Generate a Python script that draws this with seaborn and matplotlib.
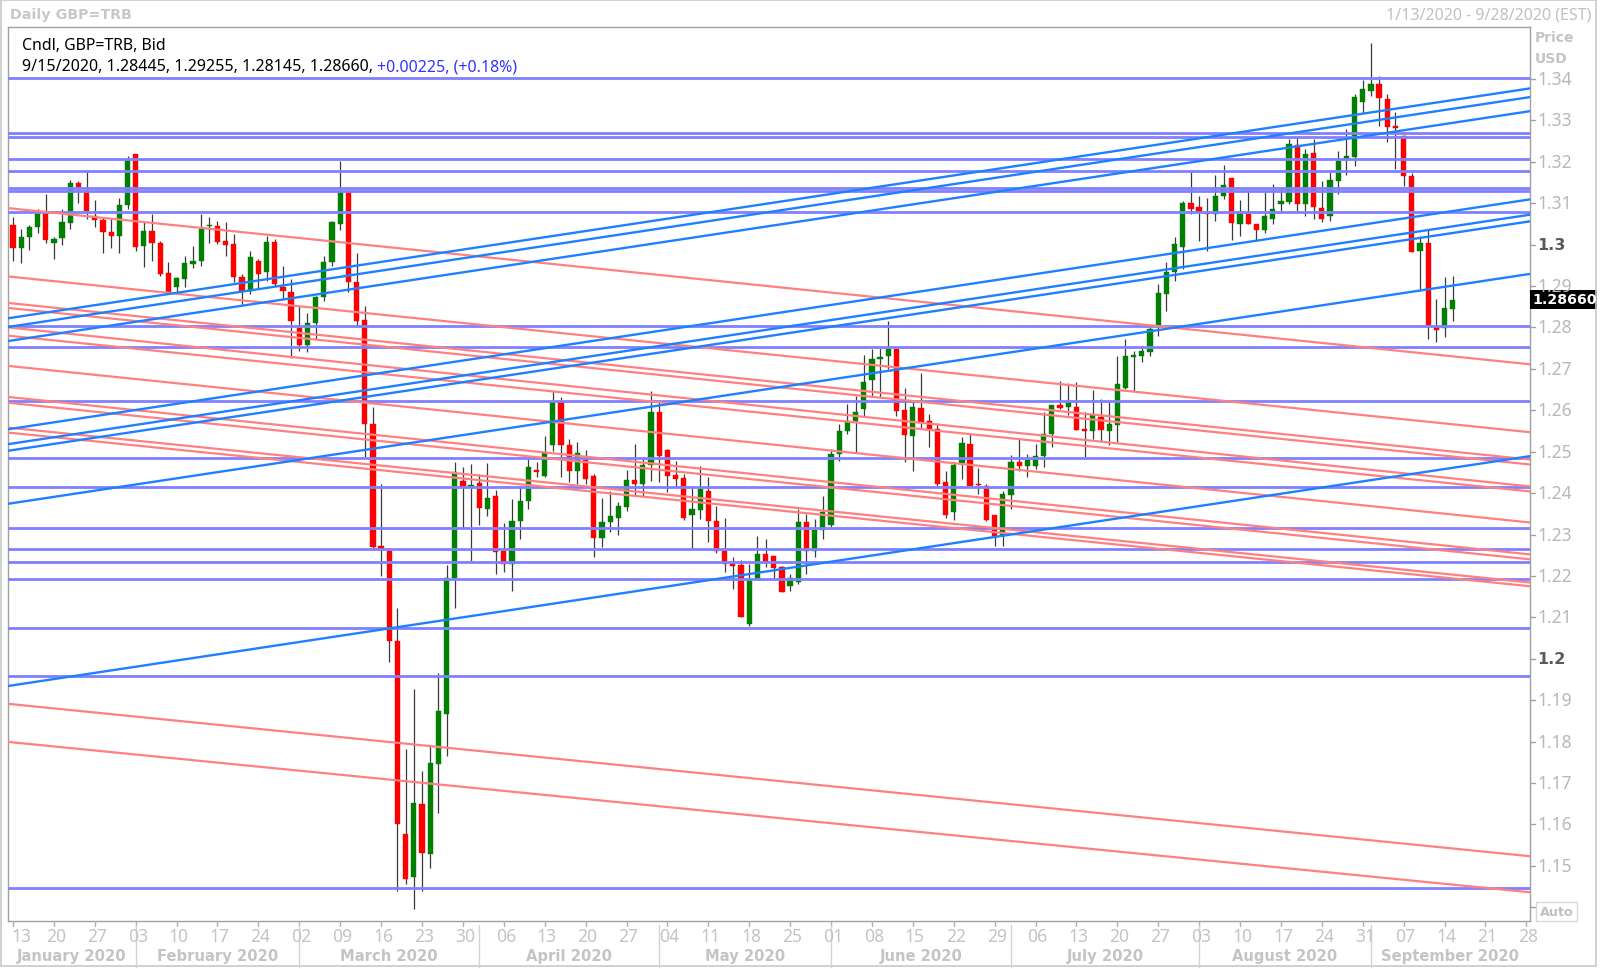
import numpy as np
import pandas as pd
import matplotlib
matplotlib.use("Agg")
import matplotlib.pyplot as plt
import seaborn as sns
from matplotlib.patches import Rectangle
from matplotlib.lines import Line2D
from matplotlib.transforms import blended_transform_factory

# ---------------- data ----------------
first_day = "2020-01-13"
axis_last_day = "2020-09-28"

opens = [1.3047, 1.2991, 1.3018, 1.3042, 1.3074, 1.3004, 1.3015, 1.3052, 1.3148, 1.3126,
         1.3068, 1.3060, 1.3031, 1.3022, 1.3096, 1.3219, 1.2996, 1.3034, 1.3005, 1.2931,
         1.2897, 1.2917, 1.2953, 1.2961, 1.3044, 1.3046, 1.3010, 1.3001, 1.2923, 1.2889,
         1.2961, 1.2933, 1.3007, 1.2897, 1.2885, 1.2799, 1.2758, 1.2812, 1.2873, 1.2957,
         1.3050, 1.3126, 1.2911, 1.2818, 1.2567, 1.2272, 1.2259, 1.2042, 1.1577, 1.1472,
         1.1649, 1.1528, 1.1746, 1.1867, 1.2196, 1.2430, 1.2414, 1.2425, 1.2362, 1.2392,
         1.2261, 1.2229, 1.2332, 1.2382, 1.2457, 1.2442, 1.2516, 1.2619, 1.2515, 1.2454,
         1.2480, 1.2442, 1.2291, 1.2331, 1.2341, 1.2366, 1.2432, 1.2422, 1.2468, 1.2595,
         1.2505, 1.2444, 1.2436, 1.2346, 1.2360, 1.2406, 1.2333, 1.2261, 1.2230, 1.2226,
         1.2084, 1.2193, 1.2253, 1.2247, 1.2221, 1.2175, 1.2186, 1.2331, 1.2259, 1.2312,
         1.2323, 1.2494, 1.2549, 1.2573, 1.2603, 1.2673, 1.2724, 1.2730, 1.2748, 1.2601,
         1.2539, 1.2605, 1.2573, 1.2556, 1.2428, 1.2354, 1.2473, 1.2519, 1.2421, 1.2418,
         1.2347, 1.2297, 1.2395, 1.2474, 1.2465, 1.2466, 1.2489, 1.2543, 1.2613, 1.2607,
         1.2607, 1.2555, 1.2551, 1.2585, 1.2551, 1.2565, 1.2655, 1.2728, 1.2732, 1.2740,
         1.2804, 1.2881, 1.2935, 1.2994, 1.3101, 1.3090, 1.3080, 1.3074, 1.3118, 1.3161,
         1.3050, 1.3074, 1.3050, 1.3036, 1.3062, 1.3098, 1.3104, 1.3241, 1.3098, 1.3221,
         1.3088, 1.3068, 1.3154, 1.3205, 1.3211, 1.3344, 1.3372, 1.3388, 1.3352, 1.3286,
         1.3263, 1.3166, 1.2985, 1.3005, 1.2800, 1.2798, 1.28445]
highs = [1.3067, 1.3038, 1.3047, 1.3086, 1.3122, 1.3018, 1.3086, 1.3157, 1.3154, 1.3176,
         1.3109, 1.3066, 1.3063, 1.3112, 1.3215, 1.3220, 1.3054, 1.3074, 1.3010, 1.2959,
         1.2921, 1.2972, 1.2996, 1.3074, 1.3066, 1.3058, 1.3054, 1.3026, 1.2929, 1.2985,
         1.2965, 1.3022, 1.3014, 1.2949, 1.2917, 1.2853, 1.2836, 1.2877, 1.2973, 1.3058,
         1.3203, 1.3126, 1.2981, 1.2851, 1.2607, 1.2422, 1.2267, 1.2122, 1.1782, 1.1927,
         1.1728, 1.1791, 1.1966, 1.2226, 1.2476, 1.2464, 1.2470, 1.2446, 1.2473, 1.2408,
         1.2329, 1.2386, 1.2418, 1.2482, 1.2475, 1.2537, 1.2647, 1.2631, 1.2531, 1.2523,
         1.2503, 1.2446, 1.2387, 1.2406, 1.2378, 1.2457, 1.2519, 1.2486, 1.2647, 1.2623,
         1.2507, 1.2478, 1.2446, 1.2418, 1.2466, 1.2438, 1.2370, 1.2341, 1.2245, 1.2239,
         1.2229, 1.2297, 1.2289, 1.2249, 1.2225, 1.2205, 1.2362, 1.2350, 1.2337, 1.2394,
         1.2506, 1.2567, 1.2615, 1.2635, 1.2733, 1.2748, 1.2750, 1.2816, 1.2748, 1.2655,
         1.2620, 1.2690, 1.2591, 1.2569, 1.2454, 1.2474, 1.2535, 1.2543, 1.2460, 1.2422,
         1.2347, 1.2404, 1.2492, 1.2532, 1.2494, 1.2519, 1.2595, 1.2613, 1.2671, 1.2667,
         1.2669, 1.2595, 1.2650, 1.2627, 1.2619, 1.2732, 1.2772, 1.2744, 1.2756, 1.2800,
         1.2905, 1.2957, 1.3018, 1.3106, 1.3175, 1.3118, 1.3113, 1.3167, 1.3192, 1.3161,
         1.3109, 1.3126, 1.3050, 1.3126, 1.3146, 1.3138, 1.3255, 1.3263, 1.3231, 1.3255,
         1.3154, 1.3175, 1.3225, 1.3279, 1.3364, 1.3398, 1.3488, 1.3408, 1.3364, 1.3320,
         1.3265, 1.3174, 1.3022, 1.3039, 1.2869, 1.2923, 1.29255]
lows = [1.2961, 1.2956, 1.2988, 1.3028, 1.3005, 1.2965, 1.2999, 1.3039, 1.3100, 1.3062,
        1.3043, 1.2979, 1.2993, 1.2981, 1.3086, 1.2985, 1.2945, 1.2961, 1.2925, 1.2881,
        1.2885, 1.2897, 1.2943, 1.2948, 1.3005, 1.3001, 1.2973, 1.2909, 1.2857, 1.2881,
        1.2893, 1.2913, 1.2901, 1.2869, 1.2726, 1.2744, 1.2740, 1.2772, 1.2865, 1.2949,
        1.3036, 1.2885, 1.2802, 1.2488, 1.2265, 1.2199, 1.1993, 1.1438, 1.1456, 1.1396,
        1.1438, 1.1495, 1.1627, 1.1764, 1.2122, 1.2313, 1.2237, 1.2323, 1.2344, 1.2204,
        1.2210, 1.2164, 1.2289, 1.2362, 1.2440, 1.2438, 1.2502, 1.2438, 1.2426, 1.2422,
        1.2422, 1.2245, 1.2269, 1.2307, 1.2299, 1.2358, 1.2394, 1.2394, 1.2430, 1.2428,
        1.2403, 1.2416, 1.2336, 1.2267, 1.2337, 1.2283, 1.2255, 1.2209, 1.2168, 1.2100,
        1.2078, 1.2189, 1.2221, 1.2193, 1.2160, 1.2164, 1.2180, 1.2205, 1.2245, 1.2289,
        1.2317, 1.2478, 1.2543, 1.2498, 1.2583, 1.2635, 1.2631, 1.2700, 1.2587, 1.2474,
        1.2454, 1.2555, 1.2511, 1.2418, 1.2339, 1.2336, 1.2434, 1.2414, 1.2398, 1.2333,
        1.2273, 1.2273, 1.2362, 1.2454, 1.2438, 1.2458, 1.2462, 1.2511, 1.2603, 1.2589,
        1.2553, 1.2486, 1.2530, 1.2527, 1.2515, 1.2523, 1.2651, 1.2647, 1.2716, 1.2730,
        1.2780, 1.2840, 1.2913, 1.2941, 1.3074, 1.3008, 1.2985, 1.3058, 1.3110, 1.3012,
        1.3022, 1.3050, 1.3010, 1.3028, 1.3050, 1.3082, 1.3098, 1.3082, 1.3068, 1.3062,
        1.3055, 1.3058, 1.3122, 1.3167, 1.3191, 1.3319, 1.3360, 1.3287, 1.3247, 1.3183,
        1.3142, 1.2983, 1.2889, 1.2772, 1.2764, 1.2776, 1.28145]
closes = [1.2991, 1.3019, 1.3042, 1.3074, 1.3011, 1.3014, 1.3054, 1.3148, 1.3140, 1.3082,
          1.3059, 1.3030, 1.3022, 1.3096, 1.3204, 1.2995, 1.3034, 1.3003, 1.2929, 1.2886,
          1.2919, 1.2955, 1.2961, 1.3039, 1.3047, 1.3007, 1.2999, 1.2921, 1.2889, 1.2969,
          1.2929, 1.3007, 1.2905, 1.2889, 1.2816, 1.2758, 1.2812, 1.2873, 1.2957, 1.3054,
          1.3126, 1.2909, 1.2816, 1.2567, 1.2271, 1.2262, 1.2042, 1.1601, 1.1468, 1.1652,
          1.1531, 1.1748, 1.1873, 1.2196, 1.2450, 1.2414, 1.2420, 1.2364, 1.2389, 1.2258,
          1.2229, 1.2332, 1.2382, 1.2462, 1.2452, 1.2498, 1.2619, 1.2515, 1.2454, 1.2497,
          1.2434, 1.2291, 1.2331, 1.2344, 1.2370, 1.2432, 1.2422, 1.2468, 1.2595, 1.2489,
          1.2441, 1.2434, 1.2339, 1.2362, 1.2410, 1.2333, 1.2259, 1.2229, 1.2225, 1.2102,
          1.2193, 1.2253, 1.2233, 1.2218, 1.2162, 1.2196, 1.2331, 1.2259, 1.2312, 1.2354,
          1.2494, 1.2551, 1.2573, 1.2595, 1.2669, 1.2725, 1.2729, 1.2748, 1.2599, 1.2540,
          1.2607, 1.2571, 1.2556, 1.2422, 1.2347, 1.2469, 1.2521, 1.2418, 1.2419, 1.2336,
          1.2296, 1.2398, 1.2474, 1.2465, 1.2480, 1.2490, 1.2543, 1.2613, 1.2605, 1.2619,
          1.2553, 1.2551, 1.2589, 1.2553, 1.2567, 1.2663, 1.2732, 1.2734, 1.2744, 1.2796,
          1.2883, 1.2935, 1.3002, 1.3101, 1.3086, 1.3080, 1.3073, 1.3118, 1.3145, 1.3052,
          1.3074, 1.3050, 1.3036, 1.3070, 1.3087, 1.3106, 1.3243, 1.3098, 1.3219, 1.3090,
          1.3063, 1.3157, 1.3203, 1.3215, 1.3356, 1.3376, 1.3388, 1.3353, 1.3283, 1.3282,
          1.3166, 1.2983, 1.3005, 1.2806, 1.2795, 1.2846, 1.28660]

# horizontal support / resistance levels
level_prices = [1.3402, 1.3269, 1.3260, 1.3207, 1.3179, 1.31358, 1.31285, 1.3078,
                1.2804, 1.2754, 1.2623, 1.2484, 1.2414, 1.2316, 1.2265, 1.2233,
                1.2193, 1.2074, 1.1959, 1.1446]
# rising channel lines: price at first_day and at axis_last_day
up_start = [1.2824, 1.2803, 1.2769, 1.2556, 1.2520, 1.2504, 1.2376, 1.1936]
up_end = [1.3376, 1.3355, 1.3321, 1.3108, 1.3071, 1.3055, 1.2928, 1.2488]
# falling lines: price at first_day and at axis_last_day
down_start = [1.3087, 1.2922, 1.2858, 1.2846, 1.2799, 1.2779, 1.2706, 1.2631,
              1.2617, 1.2557, 1.2545, 1.1890, 1.1798]
down_end = [1.2712, 1.2548, 1.2482, 1.2470, 1.2417, 1.2405, 1.2330, 1.2253,
            1.2241, 1.2185, 1.2176, 1.1524, 1.1437]

price_ticks = [1.14, 1.15, 1.16, 1.17, 1.18, 1.19, 1.20, 1.21, 1.22, 1.23, 1.24,
               1.25, 1.26, 1.27, 1.28, 1.29, 1.30, 1.31, 1.32, 1.33, 1.34]
bold_ticks = [1.20, 1.30]

title_text = "Daily GBP=TRB"
range_text = "1/13/2020 - 9/28/2020 (EST)"
info_line1 = "Cndl, GBP=TRB, Bid"
info_line2 = "9/15/2020, 1.28445, 1.29255, 1.28145, 1.28660, "
info_change = "+0.00225, (+0.18%)"
last_label = "1.28660"

# ---------------- style ----------------
sns.set_theme(style="white")
plt.rcParams['font.family'] = ['Noto Sans', 'DejaVu Sans']
BOLD = ['DejaVu Sans']

W, H = 1600, 970
fig = plt.figure(figsize=(16, 9.7), dpi=100)
fig.patch.set_facecolor("white")
L, R, T, B = 8, 1530, 28, 922
ax = fig.add_axes([L / W, 1 - B / H, (R - L) / W, (B - T) / H])
ax.set_facecolor("white")

def fy(px):
    return 1 - px / H

def fx(px):
    return px / W

days = pd.bdate_range(first_day, periods=len(opens))
axis_days = pd.bdate_range(first_day, axis_last_day)
n_axis = len(axis_days) - 1
xpos = np.arange(len(days))

df = pd.DataFrame({"date": days, "x": xpos, "open": opens, "high": highs,
                   "low": lows, "close": closes})
df["up"] = df["close"] >= df["open"]

XL0, XL1 = -0.61, 185.45
YL0, YL1 = 1.13667, 1.35256
ax.set_xlim(XL0, XL1)
ax.set_ylim(YL0, YL1)

# wicks
ax.vlines(df["x"], df["low"], df["high"], color="#3a3a3a", lw=0.9, zorder=2)
# bodies
body_bottom = np.minimum(df["open"], df["close"])
body_h = np.maximum(np.abs(df["close"] - df["open"]), 0.00028)
cols = np.where(df["up"], "#008000", "#ff0000")
ax.bar(df["x"], body_h, bottom=body_bottom, width=0.64, color=cols,
       edgecolor=cols, linewidth=0.3, zorder=3)

# horizontal levels
for p in level_prices:
    ax.axhline(p, color="#8080ff", lw=2.0, zorder=5)

def trend(ps, pe, color, lw):
    xs = np.array([XL0 - 1, XL1 + 1])
    ys = ps + (pe - ps) * xs / n_axis
    ax.plot(xs, ys, color=color, lw=lw, zorder=6, solid_capstyle="butt")

for ps, pe in zip(down_start, down_end):
    trend(ps, pe, "#ff8080", 1.6)
for ps, pe in zip(up_start, up_end):
    trend(ps, pe, "#1f80ff", 1.7)

# frame
for s in ax.spines.values():
    s.set_color("#a0a0a0")
    s.set_linewidth(1.0)
ax.set_xticks([])
ax.set_yticks([])

# ---------- right price axis ----------
ty = blended_transform_factory(fig.transFigure, ax.transData)
for v in price_ticks:
    fig.add_artist(Line2D([fx(R), fx(R + 5)], [v, v], transform=ty,
                          color="#a0a0a0", lw=1.0))
    if v < 1.145:
        continue
    lab = f"{v:.2f}".rstrip("0")
    if any(abs(v - b) < 1e-9 for b in bold_ticks):
        fig.text(fx(1537), v, lab, transform=ty, ha="left", va="center",
                 fontsize=11.5, color="#5a5a5a", fontweight="bold", family=BOLD)
    else:
        fig.text(fx(1537), v, lab, transform=ty, ha="left", va="center",
                 fontsize=12.6, color="#b8b8b8")

fig.text(fx(1535), fy(38), "Price", ha="left", va="center", fontsize=10,
         color="#c4c4c4", fontweight="bold", family=BOLD)
fig.text(fx(1535), fy(59), "USD", ha="left", va="center", fontsize=10,
         color="#c4c4c4", fontweight="bold", family=BOLD)

# last price label
fig.add_artist(Rectangle((fx(1530), fy(310)), fx(67), 19 / H,
                         transform=fig.transFigure, facecolor="black",
                         edgecolor="black", lw=0))
fig.text(fx(1532), fy(300.5), last_label, ha="left", va="center", fontsize=10.2,
         color="white", fontweight="bold", family=BOLD)

# Auto box
fig.add_artist(Rectangle((fx(1536), fy(922)), fx(41), 19 / H,
                         transform=fig.transFigure, facecolor="white",
                         edgecolor="#d8d8d8", lw=1))
fig.text(fx(1556.5), fy(912.5), "Auto", ha="center", va="center", fontsize=9.2,
         color="#c0c0c0", fontweight="bold", family=BOLD)

# ---------- bottom date axis ----------
tx = blended_transform_factory(ax.transData, fig.transFigure)
mondays = np.where(axis_days.weekday == 0)[0]
for m in mondays:
    fig.add_artist(Line2D([m, m], [fy(B), fy(B + 5)], transform=tx,
                          color="#b0b0b0", lw=1.0))
    lab = axis_days[m].strftime("%d")
    xm = max(m + 0.25, 1.0)
    fig.text(xm, fy(937), lab, transform=tx, ha="center", va="center",
             fontsize=12.6, color="#c4c4c4", clip_on=False)

month_first = [i for i in range(1, len(axis_days))
               if axis_days[i].month != axis_days[i - 1].month]
for mf in month_first:
    fig.add_artist(Line2D([mf, mf], [fy(926), fy(968)], transform=tx,
                          color="#d4d4d4", lw=1.0))
bounds = [XL0] + month_first + [XL1]
starts = [0] + month_first
for k in range(len(bounds) - 1):
    c = (bounds[k] + bounds[k + 1]) / 2
    fig.text(c, fy(957), axis_days[starts[k]].strftime("%B %Y"), transform=tx,
             ha="center", va="center", fontsize=10.6, color="#c4c4c4",
             fontweight="bold", family=BOLD)

# ---------- header texts ----------
fig.text(fx(10), fy(15), title_text, ha="left", va="center", fontsize=10.3,
         color="#c8c8c8", fontweight="bold", family=BOLD)
fig.text(fx(1591), fy(15), range_text, ha="right", va="center", fontsize=11.5,
         color="#c0c0c0")
fig.text(fx(22), fy(46), info_line1, ha="left", va="center", fontsize=11.4,
         color="black")
t2 = fig.text(fx(22), fy(67), info_line2, ha="left", va="center", fontsize=11.5,
              color="black")
fig.canvas.draw()
bb = t2.get_window_extent(fig.canvas.get_renderer())
fig.text(bb.x1 / W, fy(67), info_change, ha="left", va="center", fontsize=11.5,
         color="#3434ff")

# outer border
fig.add_artist(Rectangle((fx(1), fy(967)), fx(1595), 966 / H,
                         transform=fig.transFigure, facecolor="none",
                         edgecolor="#c8c8c8", lw=1.2))

fig.savefig("out.png", dpi=100, facecolor="white")
